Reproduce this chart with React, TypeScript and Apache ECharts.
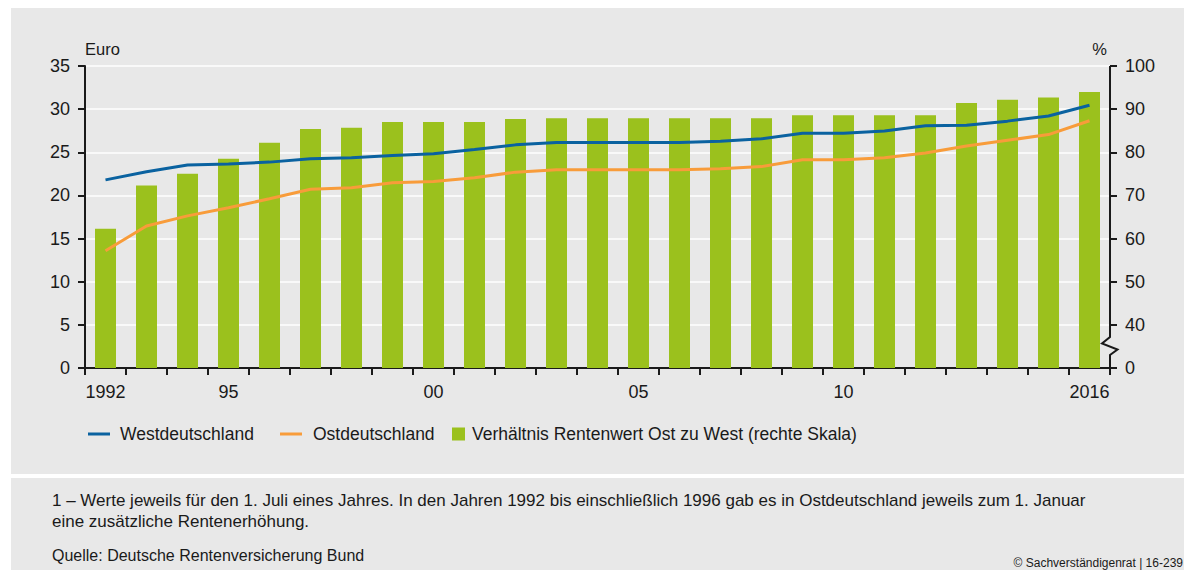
import React, { useEffect, useRef } from "react";
import * as echarts from "echarts";

const years = [
  "1992", "1993", "1994", "1995", "1996", "1997", "1998", "1999", "2000", "2001",
  "2002", "2003", "2004", "2005", "2006", "2007", "2008", "2009", "2010", "2011",
  "2012", "2013", "2014", "2015", "2016",
];
const xTickLabels = [
  "1992", "", "", "95", "", "", "", "", "00", "",
  "", "", "", "05", "", "", "", "", "10", "",
  "", "", "", "", "2016",
];
const west = [
  21.8, 22.75, 23.52, 23.64, 23.86, 24.26, 24.36, 24.63, 24.84, 25.31,
  25.86, 26.13, 26.13, 26.13, 26.13, 26.27, 26.56, 27.2, 27.2, 27.47,
  28.07, 28.14, 28.61, 29.21, 30.45,
];
const east = [
  13.59, 16.45, 17.63, 18.58, 19.62, 20.71, 20.9, 21.48, 21.61, 22.06,
  22.7, 22.97, 22.97, 22.97, 22.97, 23.09, 23.34, 24.13, 24.13, 24.37,
  24.92, 25.74, 26.39, 27.05, 28.66,
];
const ratio = [
  62.3, 72.3, 75.0, 78.5, 82.2, 85.4, 85.7, 87.0, 87.0, 87.0,
  87.7, 87.9, 87.9, 87.9, 87.9, 87.9, 87.9, 88.6, 88.6, 88.6,
  88.6, 91.4, 92.2, 92.7, 94.0,
];
// right scale: 0, then 40..100 (broken axis)
const rightTickLabels = ["0", "40", "50", "60", "70", "80", "90", "100"];

const FONT = "'Liberation Sans', Arial, sans-serif";
const TXT = "#1a1a1a";
const TICK_FS = 18;
const LEG_FS = 17.5;

// map % on broken right axis to the internal 0..35 scale
const toRightScale = (v: number) => (v - 30) / 2;

export default function App() {
  const ref = useRef<HTMLDivElement>(null);
  useEffect(() => {
    if (!ref.current) return;
    const chart = echarts.init(ref.current, null, { renderer: "svg" });
    const gridLeft = 85;
    const gridTop = 66;
    const gridRight = 74;
    const gridBottom = 202;
    const axisX = 1184 - gridRight;
    const axisBottom = 570 - gridBottom;
    const legendText = (pad: number) => ({
      fontSize: LEG_FS, color: TXT, fontFamily: FONT, padding: [0, 0, 0, pad],
    });
    chart.setOption({
      animation: false,
      backgroundColor: "#ffffff",
      textStyle: { fontFamily: FONT },
      grid: { left: gridLeft, right: gridRight, top: gridTop, bottom: gridBottom, containLabel: false },
      legend: [
        {
          data: [{ name: "Westdeutschland", icon: "rect" }],
          left: 88, top: 425, padding: 0, itemWidth: 22, itemHeight: 3, itemGap: 0,
          textStyle: legendText(5),
          selectedMode: false,
        },
        {
          data: [{ name: "Ostdeutschland", icon: "rect" }],
          left: 280, top: 425, padding: 0, itemWidth: 22, itemHeight: 3, itemGap: 0,
          textStyle: legendText(6),
          selectedMode: false,
        },
        {
          data: [{ name: "Verhältnis Rentenwert Ost zu West (rechte Skala)", icon: "rect" }],
          left: 452, top: 425, padding: 0, itemWidth: 13, itemHeight: 13, itemGap: 0,
          textStyle: legendText(2),
          selectedMode: false,
        },
      ],
      xAxis: {
        type: "category",
        data: years,
        boundaryGap: true,
        axisLine: { show: true, lineStyle: { color: TXT, width: 2 } },
        axisTick: { show: true, interval: 0, length: 7, lineStyle: { color: TXT, width: 2 } },
        axisLabel: {
          interval: 0,
          margin: 15,
          fontSize: TICK_FS,
          color: TXT,
          fontFamily: FONT,
          formatter: (_v: string, i: number) => xTickLabels[i],
        },
        splitLine: { show: false },
      },
      yAxis: [
        {
          type: "value",
          min: 0,
          max: 35,
          interval: 5,
          name: "Euro",
          nameLocation: "end",
          nameGap: 9,
          nameTextStyle: { align: "left", fontSize: 16.5, color: TXT, fontFamily: FONT },
          axisLine: { show: true, lineStyle: { color: TXT, width: 2 } },
          axisTick: { show: true, length: 7, lineStyle: { color: TXT, width: 2 } },
          axisLabel: { margin: 15, fontSize: TICK_FS, color: TXT, fontFamily: FONT },
          splitLine: { show: true, lineStyle: { color: "#ffffff", width: 1.5 } },
        },
        {
          type: "value",
          position: "right",
          min: 0,
          max: 35,
          interval: 5,
          name: "%",
          nameLocation: "end",
          nameGap: 9,
          nameTextStyle: { align: "right", fontSize: 16.5, color: TXT, fontFamily: FONT, padding: [0, 3, 0, 0] },
          axisLine: { show: false },
          axisTick: { show: true, length: 7, lineStyle: { color: TXT, width: 2 } },
          axisLabel: {
            margin: 15,
            fontSize: TICK_FS,
            color: TXT,
            fontFamily: FONT,
            formatter: (v: number) => rightTickLabels[Math.round(v / 5)],
          },
          splitLine: { show: false },
        },
      ],
      series: [
        {
          name: "Verhältnis Rentenwert Ost zu West (rechte Skala)",
          type: "bar",
          yAxisIndex: 1,
          data: ratio.map(toRightScale),
          barWidth: 21,
          itemStyle: { color: "#9bc11d" },
          z: 2,
        },
        {
          name: "Westdeutschland",
          type: "line",
          yAxisIndex: 0,
          data: west,
          symbol: "none",
          lineStyle: { color: "#0a62a0", width: 3 },
          itemStyle: { color: "#0a62a0" },
          z: 3,
        },
        {
          name: "Ostdeutschland",
          type: "line",
          yAxisIndex: 0,
          data: east,
          symbol: "none",
          lineStyle: { color: "#f89c3a", width: 3 },
          itemStyle: { color: "#f89c3a" },
          z: 3,
        },
      ],
      graphic: [
        { type: "rect", z: -10, silent: true, shape: { x: 11, y: 8, width: 1173, height: 466 }, style: { fill: "#e8e8e8" } },
        { type: "rect", z: -10, silent: true, shape: { x: 11, y: 478, width: 1173, height: 92 }, style: { fill: "#e8e8e8" } },
        {
          type: "polyline",
          z: 10,
          silent: true,
          shape: {
            points: [
              [axisX, gridTop],
              [axisX, 337],
              [axisX - 8, 343.5],
              [axisX + 7.5, 349.5],
              [axisX, 355],
              [axisX, axisBottom + 1],
            ],
          },
          style: { stroke: TXT, lineWidth: 2, fill: null },
        },
        {
          type: "text", x: 52, y: 500,
          style: {
            text: "1 – Werte jeweils für den 1. Juli eines Jahres. In den Jahren 1992 bis einschließlich 1996 gab es in Ostdeutschland jeweils zum 1. Januar",
            fontSize: 17, fill: TXT, fontFamily: FONT, verticalAlign: "middle",
          },
        },
        {
          type: "text", x: 52, y: 521,
          style: { text: "eine zusätzliche Rentenerhöhung.", fontSize: 17, fill: TXT, fontFamily: FONT, verticalAlign: "middle" },
        },
        {
          type: "text", x: 52, y: 555,
          style: { text: "Quelle: Deutsche Rentenversicherung Bund", fontSize: 16, fill: TXT, fontFamily: FONT, verticalAlign: "middle" },
        },
        {
          type: "text", x: 1183, y: 563,
          style: { text: "© Sachverständigenrat | 16-239", fontSize: 12, fill: TXT, fontFamily: FONT, verticalAlign: "middle", align: "right" },
        },
      ],
    });
    return () => chart.dispose();
  }, []);
  return (
    <div style={{ position: "absolute", left: 0, top: 0, width: 1184, height: 570, background: "#fff" }}>
      <div ref={ref} style={{ width: 1184, height: 570 }} />
    </div>
  );
}
